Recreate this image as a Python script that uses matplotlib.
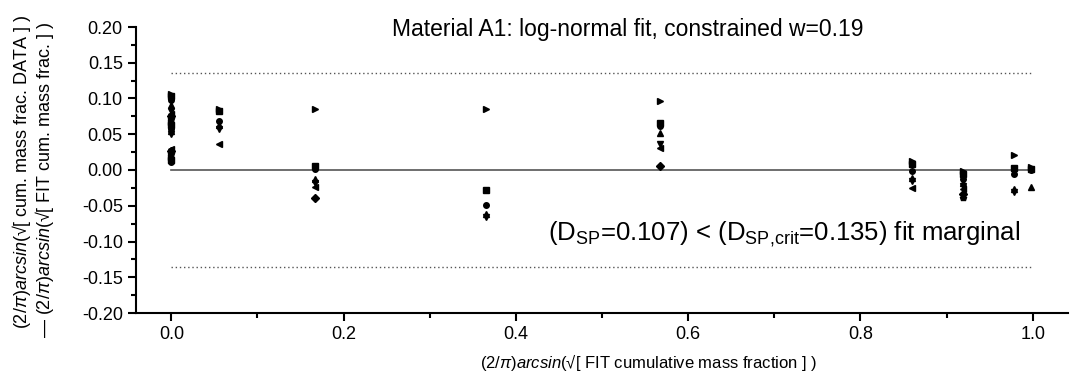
import numpy as np
import matplotlib
matplotlib.use("Agg")
import matplotlib.pyplot as plt
from matplotlib.ticker import MultipleLocator, FormatStrFormatter

plt.rcParams['font.family'] = ['Liberation Sans', 'DejaVu Sans']
plt.rcParams['mathtext.fontset'] = 'custom'
plt.rcParams['mathtext.rm'] = 'Liberation Sans'
plt.rcParams['mathtext.it'] = 'Liberation Sans:italic'
plt.rcParams['mathtext.bf'] = 'Liberation Sans:bold'

# Data: x of each FIT group, residuals
x_groups = [0.0, 0.055, 0.167, 0.365, 0.567, 0.86, 0.919, 0.978, 0.998]
y_groups = [
    [0.106, 0.103, 0.098, 0.091, 0.082, 0.078, 0.075, 0.071, 0.067, 0.063,
     0.058, 0.054, 0.050, 0.030, 0.026, 0.022, 0.018, 0.014, 0.011],
    [0.086, 0.083, 0.068, 0.063, 0.057, 0.036],
    [0.085, 0.005, 0.002, -0.013, -0.018, -0.024, -0.039],
    [0.086, -0.028, -0.049, -0.062, -0.066],
    [0.096, 0.066, 0.061, 0.052, 0.036, 0.031, 0.006],
    [0.013, 0.008, -0.002, -0.011, -0.016, -0.025],
    [-0.001, -0.006, -0.012, -0.018, -0.022, -0.026, -0.034, -0.039],
    [0.021, 0.003, -0.006, -0.027, -0.031],
    [0.004, 0.002, 0.0, -0.024],
]
d_sp = 0.107
d_crit = 0.135

markers = ['>', 's', 'o', '^', 'v', '<', 'D', 'p']

fig = plt.figure(figsize=(10.71, 3.79), dpi=100)
ax = fig.add_axes([136/1071, 1-313/379, (1068-136)/1071, (313-27)/379])

for xg, yg in zip(x_groups, y_groups):
    for k, yv in enumerate(yg):
        ax.plot(xg, yv, linestyle='none', marker=markers[k % len(markers)],
                ms=4, color='black', mec='black')

ax.plot([0, 1], [0, 0], color='#555555', lw=1.2, zorder=1)
ax.plot([0, 1], [d_crit, d_crit], color='#555555', lw=1.0, ls=(0, (1, 2)), zorder=1)
ax.plot([0, 1], [-d_crit, -d_crit], color='#555555', lw=1.0, ls=(0, (1, 2)), zorder=1)

ax.set_xlim(-0.041, 1.041)
ax.set_ylim(-0.2, 0.2)
ax.spines['top'].set_visible(False)
ax.spines['right'].set_visible(False)
ax.spines['left'].set_linewidth(1.5)
ax.spines['bottom'].set_linewidth(1.5)

ax.xaxis.set_major_locator(MultipleLocator(0.2))
ax.xaxis.set_minor_locator(MultipleLocator(0.1))
ax.yaxis.set_major_locator(MultipleLocator(0.05))
ax.yaxis.set_minor_locator(MultipleLocator(0.025))
ax.xaxis.set_major_formatter(FormatStrFormatter('%.1f'))
ax.yaxis.set_major_formatter(FormatStrFormatter('%.2f'))
ax.tick_params(which='major', direction='out', length=6, width=1.5, labelsize=13)
ax.tick_params(which='minor', direction='out', length=3.5, width=1.5)

ax.text(0.53, 0.196, 'Material A1: log-normal fit, constrained w=0.19',
        ha='center', va='center', fontsize=16.5)
ax.text(0.985, -0.09,
        r'(D$_\mathregular{SP}$=%.3f) < (D$_\mathregular{SP{,}crit}$=%.3f) fit marginal' % (d_sp, d_crit),
        ha='right', va='center', fontsize=18.5)

ax.set_xlabel(r'$\mathit{(2/\pi)arcsin(}$√[ FIT cumulative mass fraction ] )', fontsize=12)
ax.xaxis.set_label_coords(0.55, -0.135)

fig.text(22/1071, 1-172/379, r'$\mathit{(2/\pi)arcsin(}$√[ cum. mass frac. DATA ] )',
         rotation=90, ha='center', va='center', fontsize=13)
fig.text(45/1071, 1-180/379, r'— $\mathit{(2/\pi)arcsin(}$√[ FIT cum. mass frac. ] )',
         rotation=90, ha='center', va='center', fontsize=13)

fig.savefig('out.png', dpi=100)
